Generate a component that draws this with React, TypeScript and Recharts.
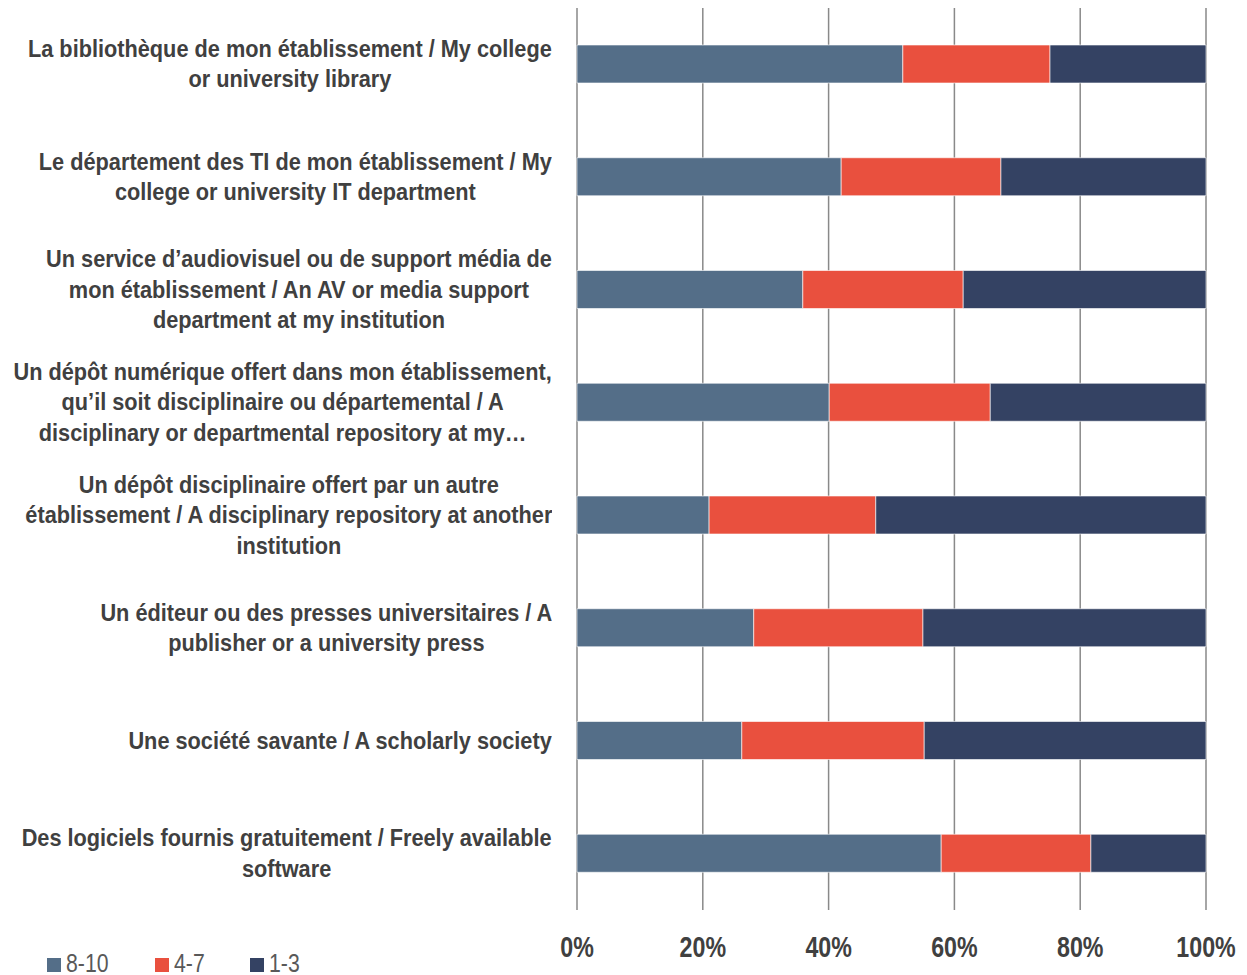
import React from 'react'
import { BarChart, Bar, XAxis, YAxis, CartesianGrid } from 'recharts'

const categories = [
  'La bibliothèque de mon établissement / My college\nor university library',
  'Le département des TI de mon établissement / My\ncollege or university IT department',
  'Un service d’audiovisuel ou de support média de\nmon établissement / An AV or media support\ndepartment at my institution',
  'Un dépôt numérique offert dans mon établissement,\nqu’il soit disciplinaire ou départemental / A\ndisciplinary or departmental repository at my…',
  'Un dépôt disciplinaire offert par un autre\nétablissement / A disciplinary repository at another\ninstitution',
  'Un éditeur ou des presses universitaires / A\npublisher or a university press',
  'Une société savante / A scholarly society',
  'Des logiciels fournis gratuitement / Freely available\nsoftware',
]

const high = [51.8, 42.0, 35.9, 40.1, 21.0, 28.1, 26.2, 57.9]
const mid = [23.4, 25.4, 25.5, 25.6, 26.5, 26.9, 29.0, 23.8]
const low = [24.8, 32.6, 38.6, 34.3, 52.5, 45.0, 44.8, 18.3]

const xTicks = [0, 20, 40, 60, 80, 100]

const seriesNames = ['8-10', '4-7', '1-3']
const COLORS = ['#546e88', '#e9503e', '#344263']

const FONT = "'Liberation Sans Narrow', 'Arial Narrow', 'Liberation Sans', Arial, sans-serif"

const data = categories.map((name, i) => ({
  name,
  high: high[i],
  mid: mid[i],
  low: low[i],
}))

// excel-style wrapped label: box hugs the axis, lines centred inside it
const CategoryTick = ({ x, y, payload }: any) => {
  const lines = String(payload.value).split('\n')
  const h = lines.length * 30.5
  return (
    <foreignObject x={0} y={y - h / 2} width={x - 17} height={h}>
      <div style={{ display: 'flex', justifyContent: 'flex-end', width: '100%' }}>
        <div
          style={{
            display: 'inline-block',
            textAlign: 'center',
            fontFamily: FONT,
            fontWeight: 700,
            fontSize: 24,
            lineHeight: '30.5px',
            color: '#404040',
            whiteSpace: 'nowrap',
            transform: 'scaleX(0.905)',
            transformOrigin: 'right center',
          }}
        >
          {lines.map((l, k) => (
            <div key={k}>{l}</div>
          ))}
        </div>
      </div>
    </foreignObject>
  )
}

const PercentTick = ({ x, y, payload }: any) => (
  <text
    transform={`translate(${x}, ${y + 39}) scale(0.8, 1)`}
    textAnchor="middle"
    fontFamily={FONT}
    fontWeight={700}
    fontSize={29}
    fill="#404040"
  >
    {payload.value}%
  </text>
)

const ChartLegend = () => (
  <div
    style={{
      position: 'absolute',
      left: 47,
      top: 950,
      display: 'flex',
      fontFamily: FONT,
      fontSize: 25,
      lineHeight: '26px',
      color: '#595959',
    }}
  >
    {seriesNames.map((n, i) => (
      <div key={n} style={{ display: 'flex', alignItems: 'center', width: i === 0 ? 108 : 95 }}>
        <span style={{ width: 14, height: 14, background: COLORS[i], display: 'inline-block', marginRight: 5, marginTop: 4 }} />
        <span style={{ display: 'inline-block', transform: 'scaleX(0.85)', transformOrigin: 'left center' }}>{n}</span>
      </div>
    ))}
  </div>
)

export default function App() {
  return (
    <div style={{ position: 'absolute', left: 0, top: 0, width: 1247, height: 975, background: '#fff' }}>
      <BarChart
        width={1247}
        height={975}
        data={data}
        layout="vertical"
        margin={{ top: 8, right: 41, bottom: 35, left: 0 }}
        barSize={38}
      >
        <CartesianGrid vertical horizontal={false} stroke="#898989" strokeWidth={1.5} />
        <XAxis
          type="number"
          domain={[0, 100]}
          ticks={xTicks}
          axisLine={false}
          tickLine={false}
          tick={<PercentTick />}
          interval={0}
        />
        <YAxis
          type="category"
          dataKey="name"
          width={577}
          axisLine={false}
          tickLine={false}
          tick={<CategoryTick />}
          interval={0}
        />
        <Bar dataKey="high" name={seriesNames[0]} stackId="a" fill={COLORS[0]} stroke="#ffffff" strokeOpacity={0.6} isAnimationActive={false} />
        <Bar dataKey="mid" name={seriesNames[1]} stackId="a" fill={COLORS[1]} stroke="#ffffff" strokeOpacity={0.6} isAnimationActive={false} />
        <Bar dataKey="low" name={seriesNames[2]} stackId="a" fill={COLORS[2]} stroke="#ffffff" strokeOpacity={0.6} isAnimationActive={false} />
      </BarChart>
      <ChartLegend />
    </div>
  )
}
